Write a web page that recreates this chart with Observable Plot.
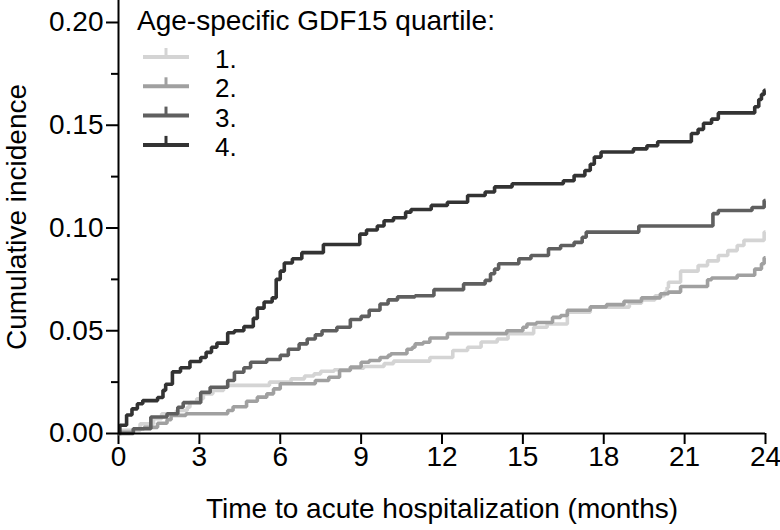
<!DOCTYPE html>
<html>
<head>
<meta charset="utf-8">
<script src="https://cdn.jsdelivr.net/npm/d3@7"></script>
<script src="https://cdn.jsdelivr.net/npm/@observablehq/plot@0.6"></script>
<style>
  html, body { margin: 0; padding: 0; background: #fff; }
  #wrap { position: relative; width: 780px; height: 530px; overflow: hidden; }
  #legend { position: absolute; left: 0; top: 0; pointer-events: none; }
</style>
</head>
<body>
<div id="wrap"></div>
<script>
// ---- data ----
const legendTitle = "Age-specific GDF15 quartile:";
const quartiles = ["1.", "2.", "3.", "4."];
const colors = ["#d4d4d4", "#a0a0a0", "#5f5f5f", "#333333"];

const q1Months = [0,0.1,0.8,1.3,1.6,2.15, 2.55,2.65,2.9,3.15,3.5,3.9, 4.05,5.6,6.4,6.9,7.25,7.5, 8.0,8.6,9.1,9.85,10.2,11.55, 12.4,12.95,13.45,14.05,14.45,15.4, 15.9,16.65,17.5,18.95,19.4,19.9, 20.25,20.35,20.4,20.85,21.5,21.85, 22.25,22.6,22.95,23.2,23.95,24];
const q1Values = [0,0.0015,0.0047,0.0072,0.0096,0.0112, 0.0128,0.0152,0.0169,0.0193,0.021,0.0225, 0.0234,0.025,0.0266,0.028,0.029,0.0303, 0.031,0.0318,0.0326,0.034,0.0352,0.037, 0.0404,0.042,0.0445,0.046,0.0486,0.0517, 0.0533,0.059,0.0615,0.0634,0.065,0.067, 0.0687,0.071,0.0736,0.079,0.0817,0.084, 0.0866,0.089,0.0915,0.094,0.098,0.098];

const q2Months = [0,0.1,0.55,0.95,1.45,1.8, 1.95,2.5,4.05,4.25,4.75,5.15, 5.5,5.75,6.0,7.3,7.8,8.2, 8.6,9.0,9.3,9.7,10.0,10.1, 10.7,10.9,11.0,11.3,11.55,12.2, 14.4,15.0,15.15,15.5,16.1,16.4, 16.65,17.5,18.1,18.75,19.4,20.1, 20.4,20.85,21.85,22.0,22.95,23.6, 23.85,23.95,24];
const q2Values = [0,0.0006,0.0023,0.003,0.005,0.0067, 0.0088,0.0096,0.0112,0.013,0.0157,0.0177, 0.0193,0.0217,0.0242,0.0258,0.0274,0.0307, 0.0323,0.0347,0.0355,0.037,0.038,0.0388, 0.041,0.042,0.0436,0.0444,0.0465,0.0486, 0.050,0.0517,0.0533,0.054,0.0565,0.0574, 0.060,0.0616,0.0627,0.0643,0.066,0.068, 0.0688,0.0715,0.0748,0.0757,0.077,0.080, 0.0826,0.0855,0.0855];

const q3Months = [0,0.55,1.2,1.8,2.2,2.4, 3.05,3.4,4.05,4.3,4.65,4.9, 5.5,6.0,6.3,6.7,7.0,7.3, 7.55,8.1,8.6,9.0,9.3,9.7, 10.0,10.35,11.0,11.7,12.8,13.6, 13.8,13.95,14.1,14.85,15.3,15.95, 16.4,16.9,17.2,17.35,19.3,22.05, 22.25,23.5,23.95,24];
const q3Values = [0,0.0023,0.008,0.0096,0.0128,0.015, 0.020,0.0225,0.0258,0.0298,0.032,0.0347, 0.036,0.038,0.041,0.0436,0.046,0.048, 0.050,0.0517,0.0555,0.057,0.060,0.063, 0.065,0.0665,0.067,0.070,0.0728,0.0745, 0.0777,0.080,0.0826,0.085,0.0866,0.0899, 0.0915,0.093,0.0955,0.098,0.101,0.107, 0.1085,0.110,0.1134,0.1134];

const q4Months = [0,0.05,0.3,0.5,0.7,0.9, 1.45,1.65,1.75,2.0,2.3,2.65, 3.05,3.25,3.45,3.65,4.05,4.3, 4.65,5.0,5.15,5.4,5.7,5.85, 6.0,6.15,6.45,6.8,7.6,8.95, 9.2,9.6,9.85,10.2,10.65,10.85, 11.6,12.2,12.95,13.6,13.95,14.6, 16.5,16.9,17.3,17.5,17.65,17.9, 19.1,19.6,20.0,21.25,21.5,21.7, 22.0,22.25,23.6,23.75,23.85,23.95, 24];
const q4Values = [0,0.004,0.009,0.012,0.0145,0.016, 0.0175,0.021,0.024,0.030,0.032,0.035, 0.037,0.0395,0.042,0.044,0.049,0.050, 0.052,0.056,0.061,0.064,0.066,0.075, 0.079,0.083,0.085,0.088,0.092,0.097, 0.099,0.101,0.1035,0.105,0.1077,0.109, 0.111,0.1125,0.1158,0.1175,0.12,0.1215, 0.123,0.1255,0.128,0.131,0.1345,0.137, 0.1385,0.140,0.142,0.146,0.148,0.151, 0.153,0.156,0.159,0.1625,0.165,0.167, 0.167];

const xTicks = [0, 3, 6, 9, 12, 15, 18, 21, 24];
const yTicks = [0, 0.05, 0.10, 0.15, 0.20];
const yMinorTicks = [0.025, 0.075, 0.125, 0.175];
const xLabel = "Time to acute hospitalization (months)";
const yLabel = "Cumulative incidence";

// ---- build long table ----
const seriesMonths = [q1Months, q2Months, q3Months, q4Months];
const seriesValues = [q1Values, q2Values, q3Values, q4Values];
const data = [];
quartiles.forEach((q, i) => {
  const n = Math.min(seriesMonths[i].length, seriesValues[i].length);
  for (let j = 0; j < n; j++) data.push({quartile: q, month: seriesMonths[i][j], value: seriesValues[i][j]});
});

const FONT = "Arial, 'Liberation Sans', Helvetica, sans-serif";

const chart = Plot.plot({
  width: 780,
  height: 530,
  marginLeft: 118,
  marginRight: 15,
  marginTop: 0,
  marginBottom: 97,
  style: {fontFamily: FONT, fontSize: "28px", color: "#000", background: "#fff", overflow: "visible"},
  x: {domain: [0, 24]},
  y: {domain: [0, 0.2107]},
  color: {domain: quartiles, range: colors},
  marks: [
    Plot.axisY({ticks: yTicks, tickFormat: d3.format(".2f"), tickSize: 12, tickPadding: 3, strokeWidth: 2,
      fontSize: 28, label: yLabel, labelAnchor: "center", labelArrow: "none", labelOffset: 112}),
    Plot.axisY({ticks: yMinorTicks, tickSize: 7, strokeWidth: 2, text: null, label: null}),
    Plot.axisX({ticks: xTicks, tickSize: 11, tickPadding: 2, strokeWidth: 2,
      fontSize: 28, label: xLabel, labelAnchor: "center", labelArrow: "none", labelOffset: 84}),
    Plot.line(data, {x: "month", y: "value", z: "quartile", stroke: "quartile",
      curve: "step-after", strokeWidth: 3.6, strokeLinejoin: "miter", strokeLinecap: "butt"}),
    Plot.ruleX([0], {strokeWidth: 2}),
    Plot.ruleY([0], {strokeWidth: 2})
  ]
});

const wrap = document.getElementById("wrap");
wrap.appendChild(chart);

// ---- legend overlay (top-left inside plot) ----
const lg = d3.select(wrap).append("svg")
  .attr("id", "legend").attr("width", 780).attr("height", 180)
  .style("font-family", FONT);
lg.append("text").attr("x", 137).attr("y", 30).attr("font-size", 28).attr("fill", "#000").text(legendTitle);
quartiles.forEach((q, i) => {
  const y0 = 57 + i * 29.3;
  lg.append("line").attr("x1", 143).attr("x2", 189).attr("y1", y0).attr("y2", y0)
    .attr("stroke", colors[i]).attr("stroke-width", 4);
  lg.append("line").attr("x1", 166).attr("x2", 166).attr("y1", y0).attr("y2", y0 - 9)
    .attr("stroke", colors[i]).attr("stroke-width", 3);
  lg.append("text").attr("x", 215).attr("y", y0 + 11).attr("font-size", 26).attr("fill", "#000").text(q);
});
</script>
</body>
</html>
